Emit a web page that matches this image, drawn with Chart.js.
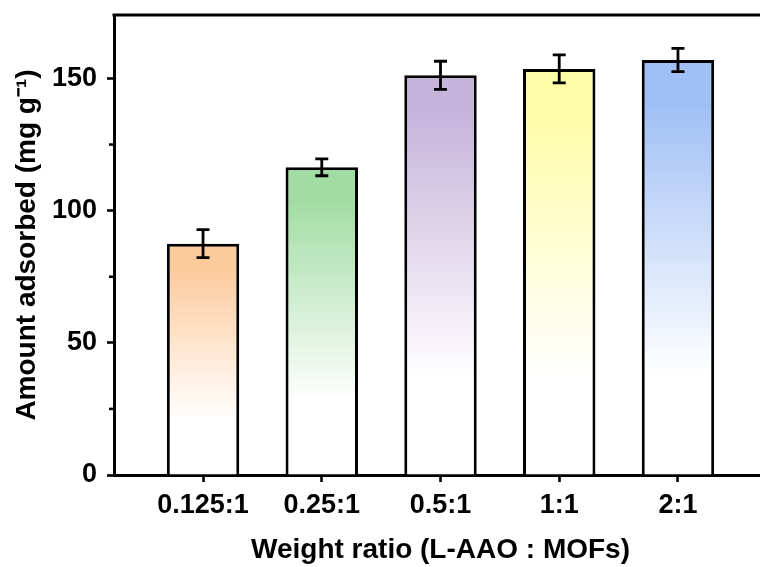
<!DOCTYPE html>
<html>
<head>
<meta charset="utf-8">
<script src="https://cdn.jsdelivr.net/npm/chart.js@4.4.1/dist/chart.umd.min.js"></script>
<style>
  html, body { margin: 0; padding: 0; background: #fff; }
  body { width: 760px; height: 567px; overflow: hidden; }
  #wrap { width: 770px; height: 567px; }
</style>
</head>
<body>
<div id="wrap"><canvas id="myChart_adsorb" width="770" height="567"></canvas></div>
<script>
// Dados do grafico
const ratios = ['0.125:1', '0.25:1', '0.5:1', '1:1', '2:1'];
const adsorbed = [87.5, 116.4, 151.2, 153.6, 157.0];
const errors = [5.3, 3.2, 5.3, 5.3, 4.4];
const barColors = ['#fdca9b', '#a1dca2', '#c6b4db', '#fffca6', '#9fbff5'];
const yTicks = [0, 50, 100, 150];
const yMinorTicks = [25, 75, 125];

const ctx = document.getElementById('myChart_adsorb');
const fontFam = '"Liberation Sans", Arial, Helvetica, sans-serif';
const positions = ratios.map((r, i) => i + 1);

// gradiente de cada barra: cor no topo, branco perto da base
function barGradient(c) {
  const chart = c.chart;
  if (!chart.chartArea || c.dataIndex === undefined) return barColors[c.dataIndex] || '#fff';
  const y = chart.scales.y;
  const top = y.getPixelForValue(adsorbed[c.dataIndex]);
  const bottom = y.getPixelForValue(0);
  const g = chart.ctx.createLinearGradient(0, top, 0, bottom);
  g.addColorStop(0, barColors[c.dataIndex]);
  g.addColorStop(0.1, barColors[c.dataIndex]);
  g.addColorStop(0.76, '#ffffff');
  g.addColorStop(1, '#ffffff');
  return g;
}

// barras de erro, linha de cima e ticks menores
const extras = {
  id: 'extras',
  afterDatasetsDraw(chart) {
    const c = chart.ctx;
    const y = chart.scales.y;
    const meta = chart.getDatasetMeta(0);
    c.save();
    c.strokeStyle = '#000';
    c.lineWidth = 2.8;
    meta.data.forEach((bar, i) => {
      const hi = y.getPixelForValue(adsorbed[i] + errors[i]);
      const lo = y.getPixelForValue(adsorbed[i] - errors[i]);
      c.beginPath();
      c.moveTo(bar.x, hi); c.lineTo(bar.x, lo);
      c.moveTo(bar.x - 6.5, hi); c.lineTo(bar.x + 6.5, hi);
      c.moveTo(bar.x - 6.5, lo); c.lineTo(bar.x + 6.5, lo);
      c.stroke();
    });
    const area = chart.chartArea;
    c.lineWidth = 3;
    c.beginPath();
    c.moveTo(area.left - 1.5, area.top);
    c.lineTo(area.right, area.top);
    c.stroke();
    c.lineWidth = 2.5;
    yMinorTicks.forEach(v => {
      const py = y.getPixelForValue(v);
      c.beginPath();
      c.moveTo(area.left - 5, py);
      c.lineTo(area.left, py);
      c.stroke();
    });
    c.restore();
  }
};

new Chart(ctx, {
  type: 'bar',
  data: {
    datasets: [{
      data: adsorbed.map((v, i) => ({ x: positions[i], y: v })),
      backgroundColor: barGradient,
      borderColor: '#000',
      borderWidth: 3,
      borderSkipped: 'bottom',
      barPercentage: 0.61,
      categoryPercentage: 1
    }]
  },
  options: {
    responsive: false,
    devicePixelRatio: 1,
    animation: false,
    layout: { padding: { top: 15, right: 3, left: 0, bottom: 0 } },
    plugins: { legend: { display: false }, tooltip: { enabled: false } },
    scales: {
      x: {
        type: 'linear',
        min: 0.25,
        max: 5.75,
        offset: false,
        afterBuildTicks: s => { s.ticks = positions.map(v => ({ value: v })); },
        afterFit: s => { s.height = 92; },
        grid: { display: true, offset: false, drawOnChartArea: false, drawTicks: true, tickLength: 7, tickWidth: 2.6, tickColor: '#000' },
        border: { display: true, color: '#000', width: 3 },
        ticks: {
          autoSkip: false,
          maxRotation: 0,
          padding: 7,
          color: '#000',
          font: { family: fontFam, size: 27, weight: 'bold' },
          callback: v => ratios[v - 1] || ''
        },
        title: {
          display: true,
          text: 'Weight ratio (L-AAO : MOFs)',
          color: '#000',
          font: { family: fontFam, size: 28, weight: 'bold', lineHeight: 1.2 },
          padding: { top: 0, bottom: 0 }
        }
      },
      y: {
        min: 0,
        max: 174,
        afterBuildTicks: s => { s.ticks = yTicks.map(v => ({ value: v })); },
        afterFit: s => { s.width = 114; s.paddingTop = 0; s.paddingBottom = 0; },
        grid: { display: true, drawOnChartArea: false, drawTicks: true, tickLength: 7, tickWidth: 2.6, tickColor: '#000' },
        border: { display: true, color: '#000', width: 3 },
        ticks: {
          padding: 10,
          color: '#000',
          font: { family: fontFam, size: 27, weight: 'bold' }
        },
        title: {
          display: true,
          text: 'Amount adsorbed (mg g⁻¹)',
          color: '#000',
          font: { family: fontFam, size: 28, weight: 'bold', lineHeight: 1.2 },
          padding: { top: 10, bottom: 0 }
        }
      }
    }
  },
  plugins: [extras]
});
</script>
</body>
</html>
